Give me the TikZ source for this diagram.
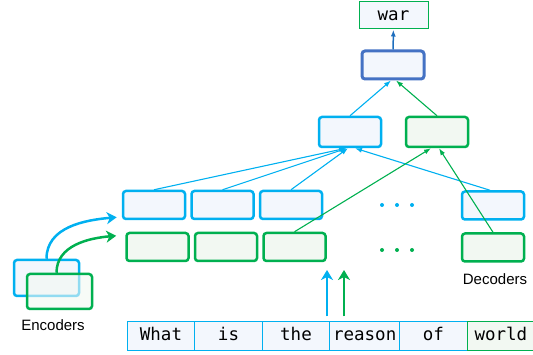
\documentclass[tikz,border=0pt]{standalone}
\usepackage{fontspec}
\setmainfont{Liberation Sans}
\newfontfamily\tokfont{DejaVu Sans Mono}
\usetikzlibrary{arrows.meta, positioning}

\definecolor{cyanb}{RGB}{0,176,240}
\definecolor{greenb}{RGB}{0,176,80}
\definecolor{darkb}{RGB}{68,114,196}
\definecolor{arrowb}{RGB}{30,110,190}
\definecolor{bluefill}{RGB}{243,247,253}
\definecolor{greenfill}{RGB}{242,248,242}

\tikzset{
	hidblue/.style={draw=cyanb, fill=bluefill, line width=2.5pt, rounded corners=3pt, minimum width=62pt, minimum height=28pt},
	hidgreen/.style={draw=greenb, fill=greenfill, line width=2.5pt, rounded corners=3pt, minimum width=62pt, minimum height=28pt},
	tok/.style={draw=cyanb, fill=bluefill, line width=1pt, minimum width=67.5pt, minimum height=29pt, text height=12pt, text depth=3pt, font=\tokfont\fontsize{17.5}{20}\selectfont},
	link/.style={-{Latex[length=7pt,width=5pt]}, line width=1.1pt},
	thickarrow/.style={-{Stealth[length=10pt,width=12pt,inset=3pt]}, line width=2.5pt},
	caption/.style={font=\fontsize{15}{17}\selectfont}
}

\begin{document}
\begin{tikzpicture}[x=1pt, y=-1pt]
	\useasboundingbox (0,0) rectangle (533,355);

	% output and upper layers
	\node[draw=greenb, fill=bluefill, line width=1pt, minimum width=69pt, minimum height=27pt,
		font=\tokfont\fontsize{17.5}{20}\selectfont] (wlabel) at (393.5,15.5) {war};
	\node[hidblue, draw=darkb, line width=3pt] (tlabel) at (393,65) {};
	\node[hidblue, minimum height=30pt] (mblabel) at (350,132) {};
	\node[hidgreen, minimum height=30pt] (mglabel) [right=22.5pt of mblabel] {};

	% hidden rows
	\node[hidblue] (b1label) at (154,205) {};
	\node[hidblue] (b2label) [right=4pt of b1label] {};
	\node[hidblue] (b3label) [right=4pt of b2label] {};
	\node[hidgreen] (g1label) [below=11.5pt of b1label, xshift=3.5pt] {};
	\node[hidgreen] (g2label) [right=4pt of g1label] {};
	\node[hidgreen] (g3label) [right=4pt of g2label] {};
	\node[hidblue] (dblabel) at (493,205.5) {};
	\node[hidgreen] (dglabel) [below=11.5pt of dblabel] {};
	\node[caption] (declabel) at (495,279) {Decoders};

	\fill[cyanb] (382,205) circle (2pt) (397,205) circle (2pt) (412,205) circle (2pt);
	\fill[greenb] (382,250) circle (2pt) (397,250) circle (2pt) (412,250) circle (2pt);

	% encoders
	\node[hidblue, minimum width=65pt, minimum height=36pt] (eblabel) at (46.5,278) {};
	\node[hidgreen, minimum width=65pt, minimum height=35pt, fill opacity=0.6] (eglabel) at (59.5,291.5) {};
	\node[caption] (enclabel) at (53,325) {Encoders};

	% input tokens
	\node[tok] (what) at (161,336.5) {What};
	\node[tok] (is) [right=-1pt of what] {is};
	\node[tok] (the) [right=-1pt of is] {the};
	\node[tok] (reason) [right=-1pt of the] {reason};
	\node[tok] (of) [right=-1pt of reason] {of};
	\node[tok, draw=greenb, fill=greenfill] (world) [right=-1pt of of] {world};

	\coordinate (inblue) at (327,270);
	\coordinate (ingreen) at (344,270);

	% connectors
	\draw[link, arrowb, line width=1.5pt] (tlabel) -- (wlabel);
	\draw[link, cyanb] (mblabel.north) -- ([xshift=-2pt]tlabel.south);
	\draw[link, greenb] (mglabel.north) -- ([xshift=3pt]tlabel.south);
	\draw[link, cyanb] (b1label.north) -- ([xshift=-4pt]mblabel.south);
	\draw[link, cyanb] (b2label.north) -- ([xshift=-3pt]mblabel.south);
	\draw[link, cyanb] (b3label.north) -- ([xshift=-2pt]mblabel.south);
	\draw[link, cyanb] ([xshift=-3pt]dblabel.north) -- ([xshift=5pt]mblabel.south);
	\draw[link, greenb] (g3label.north) -- ([xshift=-6pt]mglabel.south);
	\draw[link, greenb] (dglabel.north) -- ([xshift=2pt]mglabel.south);

	\draw[thickarrow, cyanb] (eblabel.north) to[out=90, in=185] ([xshift=-5pt, yshift=3pt]b1label.south west);
	\draw[thickarrow, greenb] ([xshift=-3pt]eglabel.north) to[out=90, in=185] ([xshift=-9pt, yshift=-4pt]g1label.north west);
	\draw[thickarrow, cyanb, shorten <=5pt] (inblue |- reason.north) -- (inblue);
	\draw[thickarrow, greenb, shorten <=5pt] (ingreen |- reason.north) -- (ingreen);
\end{tikzpicture}
\end{document}
